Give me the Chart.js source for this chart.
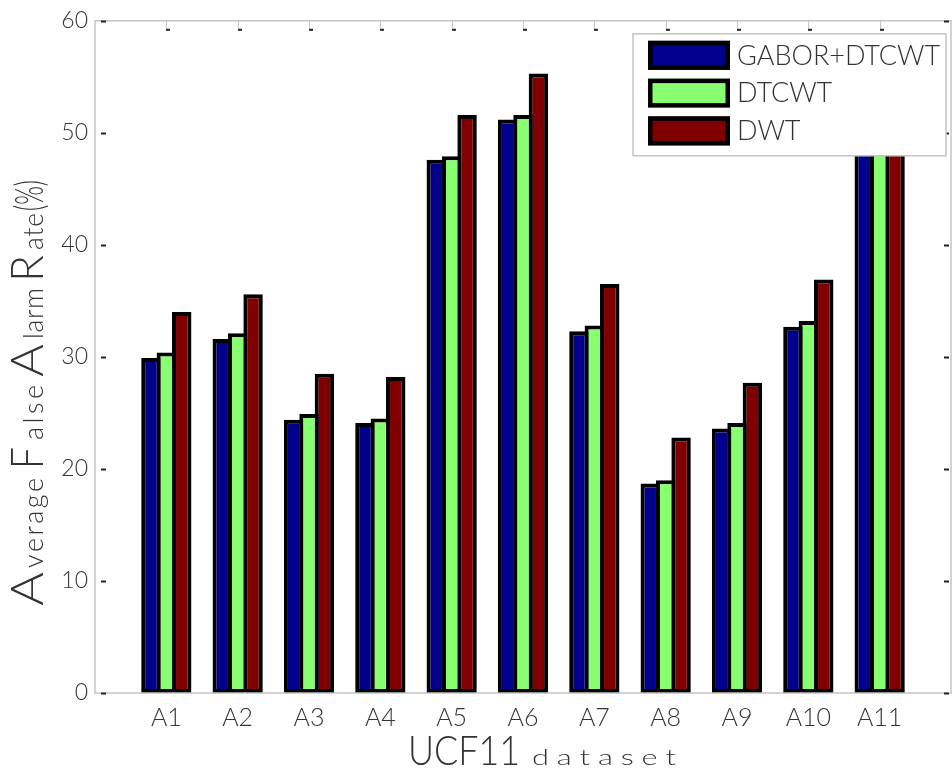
<!DOCTYPE html>
<html><head><meta charset="utf-8">
<script src="https://cdn.jsdelivr.net/npm/chart.js@4.4.1/dist/chart.umd.min.js"></script>
<style>html,body{margin:0;padding:0;background:#fff}#wrap{width:952px;height:773px}</style>
</head><body><div id="wrap"><canvas id="c" width="952" height="773"></canvas></div>
<script>
const categories = ['A1','A2','A3','A4','A5','A6','A7','A8','A9','A10','A11'];
const seriesNames = ['GABOR+DTCWT','DTCWT','DWT'];
const gaborDtcwt = [29.9, 31.6, 24.4, 24.1, 47.6, 51.2, 32.3, 18.7, 23.6, 32.7, 53.5];
const dtcwt      = [30.4, 32.1, 24.9, 24.5, 47.9, 51.6, 32.8, 19.0, 24.1, 33.2, 54.0];
const dwt        = [34.0, 35.6, 28.5, 28.2, 51.6, 55.3, 36.5, 22.8, 27.7, 36.9, 57.5];
const yTicks = [0, 10, 20, 30, 40, 50, 60];
const yTitleParts = ['A','verage','F','alse','A','larm','R','ate','(%)'];
const xTitleParts = ['UCF11','dataset'];

const colors = ['rgb(0,0,140)','rgb(136,255,112)','rgb(128,0,0)'];
const FONT = 'Lato, "DejaVu Sans", sans-serif';
const TXT = '#333';

const labels = [''].concat(categories, ['']);
const pad = arr => [null].concat(arr, [null]);
const seriesValues = [gaborDtcwt, dtcwt, dwt];

function drawParts(ctx, parts, specs) {
  parts.forEach((t, i) => {
    const s = specs[i];
    ctx.font = (s.w || 300) + ' ' + s.size + 'px ' + FONT;
    const widths = Array.from(t).map(ch => ctx.measureText(ch).width);
    const nat = widths.reduce((a, b) => a + b, 0);
    const span = s.to - s.from;
    let sx = s.sx || (span / nat);
    let gap = 0;
    if (s.sx && t.length > 1) gap = (span - nat * sx) / (t.length - 1);
    let cur = s.from;
    Array.from(t).forEach((ch, k) => {
      ctx.save();
      ctx.translate(cur, 0);
      ctx.scale(sx, 1);
      ctx.fillText(ch, 0, 0);
      ctx.restore();
      cur += widths[k] * sx + gap;
    });
  });
}

const decor = {
  id: 'decor',
  afterDraw(chart) {
    const ctx = chart.ctx, ca = chart.chartArea;
    const ys = chart.scales.y, xs = chart.scales.x;
    ctx.save();
    // frame
    ctx.strokeStyle = '#c4c4c4';
    ctx.lineWidth = 1.5;
    ctx.strokeRect(ca.left, ca.top, ca.right - ca.left, ca.bottom - ca.top);
    // inward tick marks
    ctx.strokeStyle = '#222';
    ctx.lineWidth = 2;
    yTicks.forEach(v => {
      const py = Math.round(ys.getPixelForValue(v)) + 0.5;
      ctx.beginPath(); ctx.moveTo(ca.left + 6, py); ctx.lineTo(ca.left + 11, py); ctx.stroke();
      ctx.beginPath(); ctx.moveTo(ca.right - 7, py); ctx.lineTo(ca.right - 2, py); ctx.stroke();
    });
    categories.forEach((c, i) => {
      const px = Math.round(xs.getPixelForValue(i + 1));
      ctx.strokeStyle = '#c4c4c4'; ctx.lineWidth = 1;
      ctx.beginPath(); ctx.moveTo(px + 0.5, ca.top); ctx.lineTo(px + 0.5, ca.top + 8); ctx.stroke();
      ctx.strokeStyle = '#222'; ctx.lineWidth = 2;
      ctx.beginPath(); ctx.moveTo(px, ca.top + 9); ctx.lineTo(px + 4, ca.top + 9); ctx.stroke();
    });
    // legend
    const lw = 313, lh = 122;
    const lx = ca.right - lw - 5, ly = ca.top + 13;
    ctx.fillStyle = '#fff';
    ctx.fillRect(lx, ly, lw, lh);
    ctx.strokeStyle = '#c4c4c4'; ctx.lineWidth = 1.5;
    ctx.strokeRect(lx, ly, lw, lh);
    chart.data.datasets.forEach((ds, i) => {
      const sy = ly + 7 + i * 37.8;
      ctx.fillStyle = ds.backgroundColor;
      ctx.fillRect(lx + 15, sy, 82, 29);
      ctx.strokeStyle = '#000'; ctx.lineWidth = 4.5;
      ctx.strokeRect(lx + 17.25, sy + 2.25, 77.5, 24.5);
      ctx.fillStyle = TXT;
      ctx.font = '300 27px ' + FONT;
      ctx.textBaseline = 'middle';
      ctx.textAlign = 'left';
      ctx.fillText(ds.label, lx + 104, sy + 15);
    });
    // y title
    ctx.fillStyle = TXT;
    ctx.textBaseline = 'alphabetic';
    ctx.textAlign = 'left';
    ctx.save();
    ctx.translate(43, 606);
    ctx.rotate(-Math.PI / 2);
    const big = 46, small = 27, ssx = 1.0;
    drawParts(ctx, yTitleParts, [
      {size: big, from: 0, to: 34},
      {size: small, sx: ssx, from: 38, to: 128},
      {size: big, from: 137, to: 159},
      {size: small, sx: ssx, from: 166, to: 221},
      {size: big, from: 229, to: 262},
      {size: small, sx: 0.97, from: 267, to: 318},
      {size: big, from: 324, to: 351},
      {size: small, sx: 0.97, from: 356, to: 393},
      {size: 40, from: 395, to: 426}
    ]);
    ctx.restore();
    // x title
    ctx.save();
    ctx.translate(0, 765);
    drawParts(ctx, xTitleParts, [
      {size: 42, from: 408, to: 520},
      {size: 22, sx: 1.4, from: 532, to: 676}
    ]);
    ctx.restore();
    ctx.restore();
  }
};

new Chart(document.getElementById('c'), {
  type: 'bar',
  data: {
    labels: labels,
    datasets: seriesNames.map((n, i) => ({
      label: n,
      data: pad(seriesValues[i]),
      backgroundColor: colors[i],
      borderColor: '#000',
      borderWidth: 4,
      borderSkipped: false,
      categoryPercentage: 0.648,
      barPercentage: 1.261
    }))
  },
  options: {
    responsive: false,
    animation: false,
    devicePixelRatio: 1,
    layout: { padding: { top: 18, right: 1, left: 0, bottom: 0 } },
    plugins: { legend: { display: false }, tooltip: { enabled: false } },
    scales: {
      x: {
        offset: false,
        grid: { display: false, drawTicks: true, tickLength: 10 },
        border: { display: false },
        ticks: { autoSkip: false, maxRotation: 0, color: TXT, padding: 0,
                 font: { family: FONT, size: 25, weight: 300 } },
        afterFit: s => { s.height = 80; }
      },
      y: {
        min: 0, max: 60,
        grid: { display: false, drawTicks: false },
        border: { display: false },
        afterBuildTicks: s => { s.ticks = yTicks.map(v => ({ value: v })); },
        ticks: { color: TXT, padding: 7, font: { family: FONT, size: 23, weight: 300 } },
        afterFit: s => { s.width = 95; }
      }
    }
  },
  plugins: [decor]
});
</script></body></html>
